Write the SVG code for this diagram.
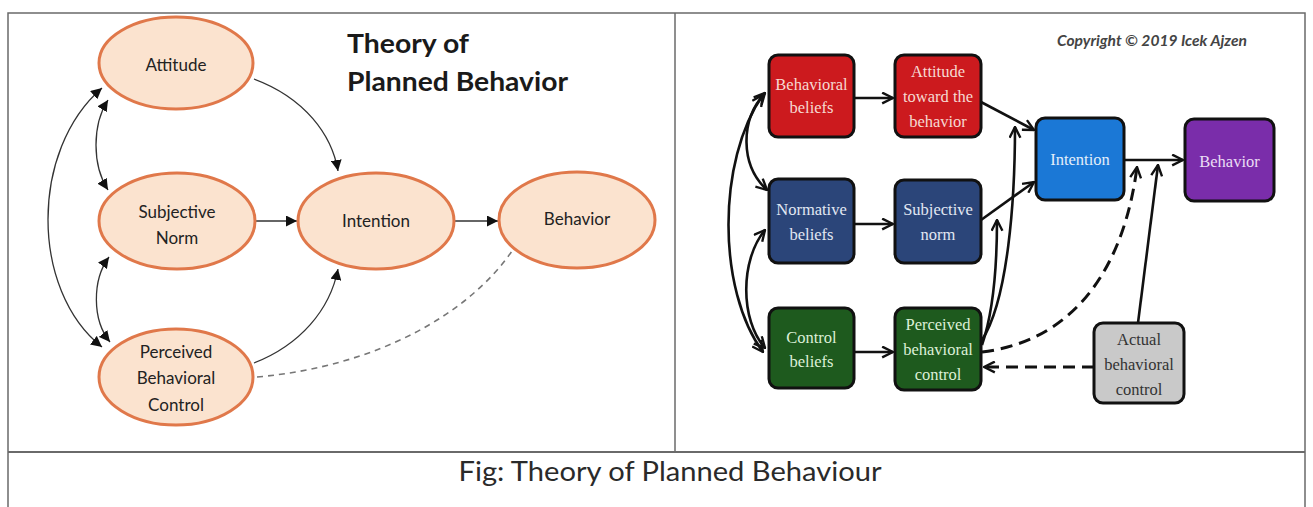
<svg xmlns="http://www.w3.org/2000/svg" width="1313" height="507" viewBox="0 0 1313 507">
<defs>
<style>
.frame{fill:none;stroke:#6a6a6a;stroke-width:1.5}
.ell{fill:#FBE3CF;stroke:#E0784A;stroke-width:3}
.lt{font-family:Lato,"Open Sans",sans-serif;font-size:17px;fill:#222;text-anchor:middle}
.lc{fill:none;stroke:#333;stroke-width:1.3}
.dash{fill:none;stroke:#777;stroke-width:1.6;stroke-dasharray:6 5}
.box{stroke:#111;stroke-width:3}
.bt{font-family:"Liberation Serif","Times New Roman",serif;font-size:16.5px;text-anchor:middle}
.rc{fill:none;stroke:#111;stroke-width:2.6}
.rd{fill:none;stroke:#111;stroke-width:3;stroke-dasharray:12 7}
</style>
<marker id="tri" viewBox="0 0 10 10" refX="10" refY="5" markerWidth="11" markerHeight="11" markerUnits="userSpaceOnUse" orient="auto-start-reverse">
<path d="M0,0 L10,5 L0,10 Z" fill="#111"/>
</marker>
<marker id="vee" viewBox="0 0 12 12" refX="11" refY="6" markerWidth="13" markerHeight="13" markerUnits="userSpaceOnUse" orient="auto-start-reverse">
<path d="M1,1 L11,6 L1,11" fill="none" stroke="#111" stroke-width="2.2"/>
</marker>
</defs>
<rect x="0" y="0" width="1313" height="507" fill="#fff"/>
<g id="frame">
<path class="frame" d="M8,507 L8,13 L1305,13 L1305,507"/>
<line class="frame" x1="675" y1="13" x2="675" y2="452"/>
<line x1="8" y1="452" x2="1305" y2="452" stroke="#6a6a6a" stroke-width="2.2"/>
<text x="670" y="481" font-family="Lato,'Liberation Sans',sans-serif" font-size="26" fill="#2a2a2a" text-anchor="middle" textLength="423" lengthAdjust="spacingAndGlyphs">Fig: Theory of Planned Behaviour</text>
</g>
<g id="left-title" font-family="Lato,'Liberation Sans',sans-serif" font-weight="bold" font-size="27" fill="#1a1a1a">
<text x="347" y="53" textLength="122" lengthAdjust="spacingAndGlyphs">Theory of</text>
<text x="347" y="91" textLength="221" lengthAdjust="spacingAndGlyphs">Planned Behavior</text>
</g>
<g id="left-connectors">
<path class="lc" d="M254,79 C305,98 332,135 338,171" marker-end="url(#tri)"/>
<path class="lc" d="M256,221 L297,221" marker-end="url(#tri)"/>
<path class="lc" d="M254,363 C300,345 330,310 338,269" marker-end="url(#tri)"/>
<path class="lc" d="M454,221 L498,221" marker-end="url(#tri)"/>
<path class="dash" d="M257,377 C380,366 470,312 512,251"/>
<path class="lc" d="M102,88 C30,150 30,290 102,347" marker-start="url(#tri)" marker-end="url(#tri)"/>
<path class="lc" d="M108,100 C92,125 92,165 108,190" marker-start="url(#tri)" marker-end="url(#tri)"/>
<path class="lc" d="M109,257 C92,280 92,320 110,342" marker-start="url(#tri)" marker-end="url(#tri)"/>
</g>
<g id="attitude"><ellipse class="ell" cx="176" cy="63" rx="77" ry="46"/><text class="lt" x="176" y="71">Attitude</text></g>
<g id="subjective-norm"><ellipse class="ell" cx="177" cy="221" rx="78" ry="48"/><text class="lt" x="177" y="218">Subjective</text><text class="lt" x="177" y="244">Norm</text></g>
<g id="pbc"><ellipse class="ell" cx="176" cy="377" rx="77" ry="48"/><text class="lt" x="176" y="358">Perceived</text><text class="lt" x="176" y="384">Behavioral</text><text class="lt" x="176" y="411">Control</text></g>
<g id="intention-l"><ellipse class="ell" cx="376" cy="221" rx="78" ry="48"/><text class="lt" x="376" y="227">Intention</text></g>
<g id="behavior-l"><ellipse class="ell" cx="577" cy="220" rx="78" ry="48"/><text class="lt" x="577" y="225">Behavior</text></g>
<g id="copyright"><text x="1057" y="46" font-family="Lato,'Liberation Sans',sans-serif" font-style="italic" font-weight="bold" font-size="16" fill="#444" textLength="190" lengthAdjust="spacingAndGlyphs">Copyright © 2019 Icek Ajzen</text></g>
<g id="right-connectors">
<path class="rc" d="M854,98 L893,98" marker-end="url(#vee)"/>
<path class="rc" d="M854,224 L893,224" marker-end="url(#vee)"/>
<path class="rc" d="M854,352 L893,352" marker-end="url(#vee)"/>
<path class="rc" d="M981,102 L1034,130" marker-end="url(#vee)"/>
<path class="rc" d="M981,220 L1034,182" marker-end="url(#vee)"/>
<path class="rc" d="M982,345 C994,310 997,260 997,220" marker-end="url(#vee)"/>
<path class="rc" d="M982,340 C1008,300 1015,200 1015,127" marker-end="url(#vee)"/>
<path class="rc" d="M1124,160 L1183,160" marker-end="url(#vee)"/>
<path class="rc" d="M1138,323 L1158,165" marker-end="url(#vee)"/>
<path class="rd" d="M982,352 C1080,340 1125,260 1137,167" marker-end="url(#vee)"/>
<path class="rd" d="M1094,367 L984,367" marker-end="url(#vee)"/>
<path class="rc" d="M763,95 C717,160 717,290 763,352" marker-start="url(#vee)" marker-end="url(#vee)"/>
<path class="rc" d="M765,93 C740,120 740,165 767,190" marker-start="url(#vee)" marker-end="url(#vee)"/>
<path class="rc" d="M765,230 C740,260 740,320 765,348" marker-start="url(#vee)" marker-end="url(#vee)"/>
</g>
<g id="behavioral-beliefs"><rect class="box" x="769" y="55" width="85" height="82" rx="9" fill="#CC1A1E"/><text class="bt" fill="#F6D9D2" x="811.5" y="90">Behavioral</text><text class="bt" fill="#F6D9D2" x="811.5" y="113">beliefs</text></g>
<g id="attitude-toward"><rect class="box" x="895" y="55" width="86" height="82" rx="9" fill="#CC1A1E"/><text class="bt" fill="#F6D9D2" x="938" y="77">Attitude</text><text class="bt" fill="#F6D9D2" x="938" y="102">toward the</text><text class="bt" fill="#F6D9D2" x="938" y="127">behavior</text></g>
<g id="normative-beliefs"><rect class="box" x="769" y="179" width="85" height="84" rx="9" fill="#2B4579"/><text class="bt" fill="#E2E8F3" x="811.5" y="215">Normative</text><text class="bt" fill="#E2E8F3" x="811.5" y="240">beliefs</text></g>
<g id="subjective-norm-r"><rect class="box" x="895" y="180" width="86" height="83" rx="9" fill="#2B4579"/><text class="bt" fill="#E2E8F3" x="938" y="215">Subjective</text><text class="bt" fill="#E2E8F3" x="938" y="240">norm</text></g>
<g id="control-beliefs"><rect class="box" x="769" y="308" width="85" height="80" rx="9" fill="#1E5A1E"/><text class="bt" fill="#DDF0D8" x="811.5" y="343">Control</text><text class="bt" fill="#DDF0D8" x="811.5" y="367">beliefs</text></g>
<g id="pbc-r"><rect class="box" x="895" y="308" width="86" height="82" rx="9" fill="#1E5A1E"/><text class="bt" fill="#DDF0D8" x="938" y="330">Perceived</text><text class="bt" fill="#DDF0D8" x="938" y="355">behavioral</text><text class="bt" fill="#DDF0D8" x="938" y="380">control</text></g>
<g id="intention-r"><rect class="box" x="1036" y="118" width="88" height="82" rx="9" fill="#1B78D6"/><text class="bt" fill="#E3EEFA" x="1080" y="165">Intention</text></g>
<g id="behavior-r"><rect class="box" x="1185" y="119" width="89" height="82" rx="9" fill="#7A2DAA"/><text class="bt" fill="#EBDDF5" x="1229.5" y="167">Behavior</text></g>
<g id="actual-control"><rect class="box" x="1094" y="323" width="90" height="80" rx="9" fill="#C9C9C9"/><text class="bt" fill="#333" x="1139" y="345">Actual</text><text class="bt" fill="#333" x="1139" y="370">behavioral</text><text class="bt" fill="#333" x="1139" y="395">control</text></g>
</svg>
